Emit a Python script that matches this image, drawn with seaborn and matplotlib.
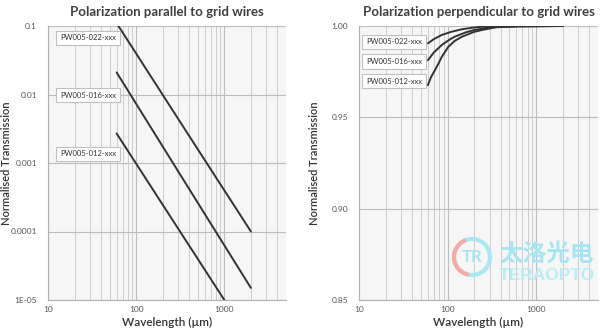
import pandas as pd
import seaborn as sns
import matplotlib.pyplot as plt
from matplotlib.patches import Circle, Arc
from matplotlib.ticker import FixedLocator, FixedFormatter, NullFormatter

# 读图得到的数据
models = ["PW005-022-xxx", "PW005-016-xxx", "PW005-012-xxx"]

# 平行偏振 (log-log 直线)
par_wl_022 = [60, 346, 2000]
par_t_022 = [0.11, 3.3e-3, 1.0e-4]
par_wl_016 = [60, 346, 2000]
par_t_016 = [0.021, 5.6e-4, 1.5e-5]
par_wl_012 = [60, 245, 1000]
par_t_012 = [0.0027, 1.64e-4, 1.0e-5]

# 垂直偏振
perp_wl_022 = [60, 70, 86, 110, 145, 200, 245, 350, 500, 2000]
perp_t_022 = [0.9905, 0.9928, 0.9951, 0.9968, 0.9982, 0.9992, 0.9996, 0.9998, 0.9999, 1.0]
perp_wl_016 = [60, 70, 86, 105, 120, 160, 200, 280, 350, 600, 2000]
perp_t_016 = [0.9813, 0.9855, 0.9896, 0.9925, 0.9941, 0.9965, 0.9978, 0.9990, 0.9994, 0.9998, 1.0]
perp_wl_012 = [60, 65, 72, 80, 86, 102, 120, 145, 200, 245, 350, 600, 2000]
perp_t_012 = [0.9676, 0.9720, 0.9758, 0.9800, 0.9831, 0.9886, 0.9918, 0.9941, 0.9968, 0.9978, 0.9993, 0.9998, 1.0]

par_ticks = [1e-5, 1e-4, 1e-3, 1e-2, 1e-1]
par_ticklabels = ["1E-05", "0.0001", "0.001", "0.01", "0.1"]
perp_ticks = [0.85, 0.90, 0.95, 1.00]
perp_ticklabels = ["0.85", "0.90", "0.95", "1.00"]
x_ticks = [10, 100, 1000]
x_ticklabels = ["10", "100", "1000"]


def long_df(wls, ts):
    rows = []
    for m, w, t in zip(models, wls, ts):
        rows += [{"model": m, "wl": a, "T": b} for a, b in zip(w, t)]
    return pd.DataFrame(rows)


df_par = long_df([par_wl_022, par_wl_016, par_wl_012], [par_t_022, par_t_016, par_t_012])
df_perp = long_df([perp_wl_022, perp_wl_016, perp_wl_012], [perp_t_022, perp_t_016, perp_t_012])

sns.set_style("whitegrid", {"axes.facecolor": "#f6f6f6", "grid.color": "#c9c9c9",
                            "axes.edgecolor": "#b0b0b0"})
plt.rcParams['font.family'] = ['Lato', 'DejaVu Sans']

fig = plt.figure(figsize=(6, 3.33), dpi=100)
ax1 = fig.add_axes([48 / 600, 33 / 333, 238 / 600, 274 / 333])
ax2 = fig.add_axes([359 / 600, 33 / 333, 239 / 600, 274 / 333])

pal = ["#333333"] * 3
sns.lineplot(data=df_par, x="wl", y="T", hue="model", palette=pal, ax=ax1,
             legend=False, linewidth=1.4, sort=True)
sns.lineplot(data=df_perp, x="wl", y="T", hue="model", palette=pal, ax=ax2,
             legend=False, linewidth=1.4, sort=True)

for ax, title, ylx in [(ax1, "Polarization parallel to grid wires", -0.151),
                       (ax2, "Polarization perpendicular to grid wires", -0.163)]:
    ax.set_xscale("log")
    ax.set_xlim(10, 5000)
    ax.xaxis.set_major_locator(FixedLocator(x_ticks))
    ax.xaxis.set_major_formatter(FixedFormatter(x_ticklabels))
    ax.xaxis.set_minor_formatter(NullFormatter())
    ax.grid(True, which="major", color="#bdbdbd", linewidth=0.8)
    ax.grid(True, which="minor", axis="x", color="#cdcdcd", linewidth=0.7)
    ax.tick_params(axis="both", which="both", labelsize=6, labelcolor="#555555",
                   length=0, pad=4)
    ax.tick_params(axis="y", which="major", length=4, color="#b0b0b0", direction="out")
    for s in ["top", "right"]:
        ax.spines[s].set_visible(False)
    ax.set_title(title, fontsize=9.5, fontweight="bold", color="#404040", pad=7)
    ax.set_xlabel("Wavelength (µm)", fontsize=8.5, color="#333333", labelpad=3,
                  fontweight="semibold")
    ax.set_ylabel("Normalised Transmission", fontsize=8, color="#333333",
                  fontweight="semibold")
    ax.yaxis.set_label_coords(ylx, 0.5)

ax1.set_yscale("log")
ax1.set_ylim(1e-5, 0.1)
ax1.yaxis.set_major_locator(FixedLocator(par_ticks))
ax1.yaxis.set_major_formatter(FixedFormatter(par_ticklabels))
ax1.yaxis.set_minor_formatter(NullFormatter())
ax1.tick_params(axis="y", which="minor", length=0)

ax2.set_ylim(0.85, 1.0)
ax2.yaxis.set_major_locator(FixedLocator(perp_ticks))
ax2.yaxis.set_major_formatter(FixedFormatter(perp_ticklabels))

box = dict(boxstyle="square,pad=0.5", fc="white", ec="#c0c0c0", lw=0.8)
for m, yp in zip(models, [38, 95, 154]):
    fig.text(88 / 600, 1 - yp / 333, m, fontsize=5.5, color="#333333",
             ha="center", va="center", bbox=box)
for m, yp in zip(models, [42, 61.5, 81]):
    fig.text(394 / 600, 1 - yp / 333, m, fontsize=5.5, color="#333333",
             ha="center", va="center", bbox=box)

# 水印
wm = fig.add_axes([0, 0, 1, 1], facecolor="none")
wm.set_xlim(0, 600)
wm.set_ylim(333, 0)
wm.axis("off")
wm.add_patch(Circle((472, 257), 18, fill=False, ec="#a8e8f2", lw=3))
wm.add_patch(Arc((472, 257), 36, 36, theta1=100, theta2=250, ec="#f5aba0", lw=3))
wm.text(472, 257, "TR", fontsize=12, color="#a3e6f1", ha="center", va="center",
        fontweight="bold")
wm.text(547, 254, "太洛光电", fontsize=17, color="#a3e6f1", ha="center", va="center",
        fontweight="bold", family=["Noto Sans CJK SC", "DejaVu Sans"])
wm.text(547, 276, "TERAOPTO", fontsize=12.5, color="#b8edf5", ha="center", va="center",
        fontweight="bold", family=["Liberation Sans", "DejaVu Sans"])

fig.savefig("out.png", dpi=100)
